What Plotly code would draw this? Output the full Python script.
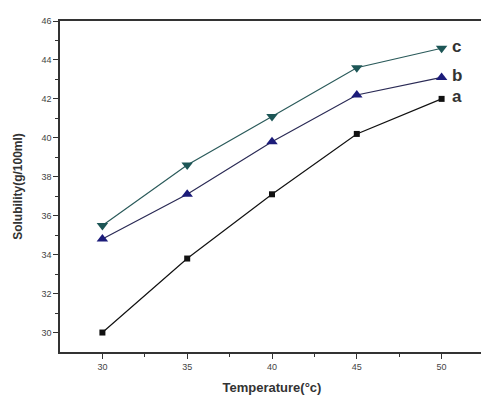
import plotly.graph_objects as go

temperature = [30, 35, 40, 45, 50]
series_a = [30.0, 33.8, 37.1, 40.2, 42.0]
series_b = [34.8, 37.1, 39.8, 42.2, 43.1]
series_c = [35.5, 38.6, 41.1, 43.6, 44.6]
y_ticks = [30, 32, 34, 36, 38, 40, 42, 44, 46]
x_ticks = [30, 35, 40, 45, 50]

fig = go.Figure()
fig.add_trace(go.Scatter(x=temperature, y=series_a, mode="lines+markers",
                         line=dict(color="#111111", width=1.2),
                         marker=dict(symbol="square", size=6, color="#111111")))
fig.add_trace(go.Scatter(x=temperature, y=series_b, mode="lines+markers",
                         line=dict(color="#2a2a55", width=1.2),
                         marker=dict(symbol="triangle-up", size=10, color="#1c1c7a")))
fig.add_trace(go.Scatter(x=temperature, y=series_c, mode="lines+markers",
                         line=dict(color="#2a5a5a", width=1.2),
                         marker=dict(symbol="triangle-down", size=10, color="#1d5656")))

for lab, ys in (("a", series_a), ("b", series_b), ("c", series_c)):
    fig.add_annotation(x=temperature[-1], y=ys[-1], text="<b>" + lab + "</b>", showarrow=False,
                       xanchor="left", xshift=8, yshift=2,
                       font=dict(family="Liberation Sans", size=17, color="#333333"))

# The page body has an 8px default margin, so the figure is sized to fit the window.
fig.update_layout(
    width=481, height=392,
    margin=dict(l=52, r=5, t=13, b=48),
    paper_bgcolor="white", plot_bgcolor="white",
    showlegend=False,
    font=dict(family="Liberation Sans", size=9, color="#444444"),
)
fig.update_xaxes(range=[27.5, 52.5], tickvals=x_ticks, ticks="outside", ticklen=5,
                 automargin=False, tickfont=dict(size=9, color="#444444"),
                 showgrid=False, zeroline=False, showline=True, mirror=True,
                 linecolor="#333333", linewidth=1.5, tickcolor="#333333",
                 minor=dict(tickvals=[32.5, 37.5, 42.5, 47.5], ticks="outside", ticklen=3, tickcolor="#333333"),
                 title=dict(text="<b>Temperature(°c)</b>", font=dict(size=13, color="#333333"), standoff=12))
fig.update_yaxes(range=[29.0, 46.0], tickvals=y_ticks, ticks="outside", ticklen=5,
                 automargin=False, tickfont=dict(size=9, color="#444444"),
                 showgrid=False, zeroline=False, showline=True, mirror=True,
                 linecolor="#333333", linewidth=1.5, tickcolor="#333333",
                 minor=dict(tickvals=[31, 33, 35, 37, 39, 41, 43, 45], ticks="outside", ticklen=3, tickcolor="#333333"),
                 title=dict(text="<b>Solubility(g/100ml)</b>", font=dict(size=12, color="#333333"), standoff=16))

fig.write_html("out.html")
